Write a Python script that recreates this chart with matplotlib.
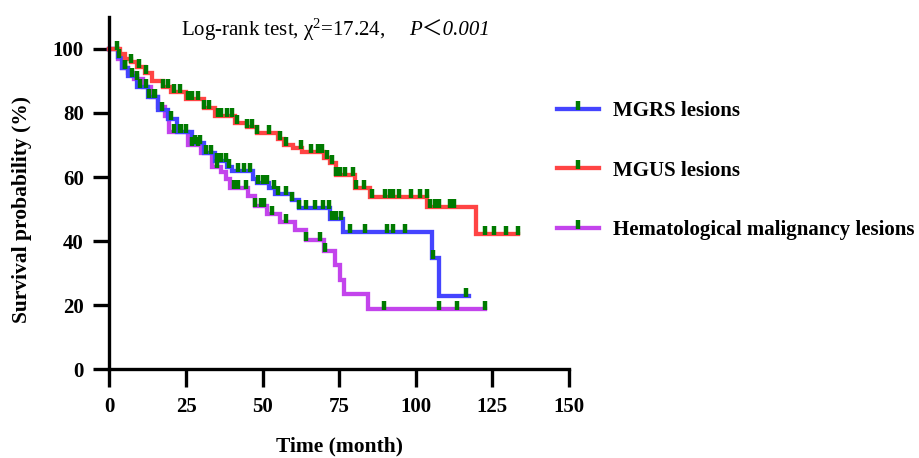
import numpy as np
import matplotlib
matplotlib.use("Agg")
import matplotlib.pyplot as plt
from matplotlib.lines import Line2D

plt.rcParams["font.family"] = ["Liberation Serif", "Noto Sans CJK SC"]
plt.rcParams["mathtext.fontset"] = "custom"
plt.rcParams["mathtext.rm"] = "Liberation Serif"
plt.rcParams["mathtext.it"] = "Liberation Serif:italic"
plt.rcParams["mathtext.bf"] = "Liberation Serif:bold"

# =============================
# Data
# =============================
mgrs_t = [0, 2.8, 4, 6, 9, 12.5, 16, 19, 22, 27, 31, 34.5, 38.4, 40, 47, 48, 52, 54,
          59.6, 62, 72, 76.3, 105.4, 107.4]
mgrs_s = [100, 97.5, 94, 91.5, 88, 85, 81, 78, 74, 70.5, 67.5, 65, 63, 62, 59.5, 58, 56.5, 54.7,
          52.8, 50.3, 47, 42.8, 34.7, 22.8]
mgrs_end = 117.5
mgrs_cens = [3, 5, 7.5, 10, 13, 14.5, 17, 20, 23.5, 25, 28, 29.5, 33, 35, 36.5, 38, 39, 42, 44,
             46, 48.5, 50, 51.5, 53.8, 55, 57.6, 59.6, 62, 64, 67, 69.7, 71.7, 72.7, 74, 75.5,
             78.6, 83.5, 90.6, 92.6, 96.5, 105.7, 116.5]

mgus_t = [0, 3.5, 5, 7, 9, 11.5, 14, 17.5, 20, 25, 31, 34.5, 41, 45, 48, 55, 57, 60, 63, 70,
          72, 74, 80, 85, 103.6, 119.5]
mgus_s = [100, 98.5, 97, 96, 94.5, 92.5, 90, 88, 86.5, 84.5, 81.5, 79, 77, 75.6, 73.7, 72, 70,
          69, 67.8, 66, 64.3, 60.5, 56.6, 53.8, 50.6, 42.2]
mgus_end = 133.5
mgus_cens = [2.5, 7, 9.5, 12, 17.5, 19, 21, 23, 25.5, 27, 29, 31, 32.5, 35.5, 36.5, 38.5, 40,
             41.5, 45, 46.5, 48, 52, 55.7, 57.6, 62.5, 65.8, 68, 69.5, 71, 72.5, 74, 75.3, 77,
             79.6, 80.6, 83, 85.7, 90, 91.5, 92.5, 94.6, 98.5, 101.5, 103.5, 104.5, 106.4,
             107.7, 111, 112.5, 122.7, 125.6, 129.5, 133.2]

hema_t = [0, 2.8, 4, 6, 8, 11, 13.5, 16, 18, 19.5, 25.6, 30, 33.5, 36.5, 38, 39.4, 45.2, 47.5,
          51.4, 55.7, 60.6, 64, 70, 73.7, 75.3, 76.4, 84.5]
hema_s = [100, 97, 94, 92.5, 90.5, 88, 85, 82, 79, 74, 70, 67.5, 63, 61.5, 59.5, 56.7, 54, 51,
          48.5, 45.8, 43.4, 40.4, 37, 32.5, 27.8, 23.4, 18.7]
hema_end = 122.7
hema_cens = [5, 9, 12, 15, 21, 23, 27, 29, 31.5, 35, 40.5, 42, 44.5, 47.5, 49.5, 50.5, 53,
             57.6, 64, 68.7, 70.3, 89.7, 107.7, 113.5, 122.5]

labels = ["MGRS lesions", "MGUS lesions", "Hematological malignancy lesions"]
colors = ["#4444FF", "#FF4444", "#C344EC"]
censor_color = "#007A00"

x_ticks = [0, 25, 50, 75, 100, 125, 150]
y_ticks = [0, 20, 40, 60, 80, 100]

# censor tick: a short vertical bar standing on the curve
censor_marker = [(0, -0.15), (0, 1)]


def step_value(times, surv, at):
    idx = np.searchsorted(times, at, side="right") - 1
    return np.asarray(surv)[idx]


fig = plt.figure(figsize=(9.2, 4.58), dpi=100)
ax = fig.add_axes([0.119, 0.1943, 0.4995, 0.7686])

groups = [
    (mgrs_t, mgrs_s, mgrs_end, mgrs_cens, colors[0]),
    (mgus_t, mgus_s, mgus_end, mgus_cens, colors[1]),
    (hema_t, hema_s, hema_end, hema_cens, colors[2]),
]

# draw purple first, then blue, then red
for i in [2, 0, 1]:
    t, s, end, cens, col = groups[i]
    ax.step(list(t) + [end], list(s) + [s[-1]], where="post", color=col, lw=3.1,
            solid_joinstyle="miter", clip_on=False, zorder=2)

for t, s, end, cens, col in groups:
    ax.plot(cens, step_value(t, s, cens), linestyle="none", marker=censor_marker,
            ms=11, mew=3.2, mec=censor_color, mfc=censor_color, clip_on=False, zorder=3)

ax.set_xlim(0, 150)
ax.set_ylim(0, 110)
ax.set_xticks(x_ticks)
ax.set_yticks(y_ticks)

for side in ["top", "right"]:
    ax.spines[side].set_visible(False)
for side in ["left", "bottom"]:
    ax.spines[side].set_linewidth(2.4)

ax.tick_params(axis="x", length=13, width=2.4, pad=7, labelsize=15)
ax.tick_params(axis="y", length=11.5, width=2.4, pad=7, labelsize=15)
for lab in ax.get_xticklabels() + ax.get_yticklabels():
    lab.set_fontweight("bold")

ax.set_xlabel("Time (month)", fontsize=15.5, fontweight="bold", labelpad=14)
ax.set_ylabel("Survival probability (%)", fontsize=15.5, fontweight="bold")
ax.yaxis.set_label_coords(-0.169, 50 / 110)

# legend
handles = [
    Line2D([], [], color=c, lw=3.1, marker=censor_marker, ms=11, mew=3.2,
           mec=censor_color, mfc=censor_color)
    for c in colors
]
fig.legend(handles, labels, loc="upper left", bbox_to_anchor=(557 / 920, 1 - 101 / 458),
           frameon=False, borderpad=0, borderaxespad=0, numpoints=1, handlelength=2.0,
           handletextpad=0.7, labelspacing=1.9, prop={"size": 15, "weight": "bold"})

# log-rank annotation
fig.text(181 / 920, 1 - 36 / 458, r"Log-rank test, $\mathrm{\chi}^2$=17.24,",
         fontsize=15, va="baseline", ha="left")
fig.text(409 / 920, 1 - 36 / 458, "P＜0.001",
         fontsize=15, fontstyle="italic", va="baseline", ha="left")

fig.savefig("out.png", dpi=100)
